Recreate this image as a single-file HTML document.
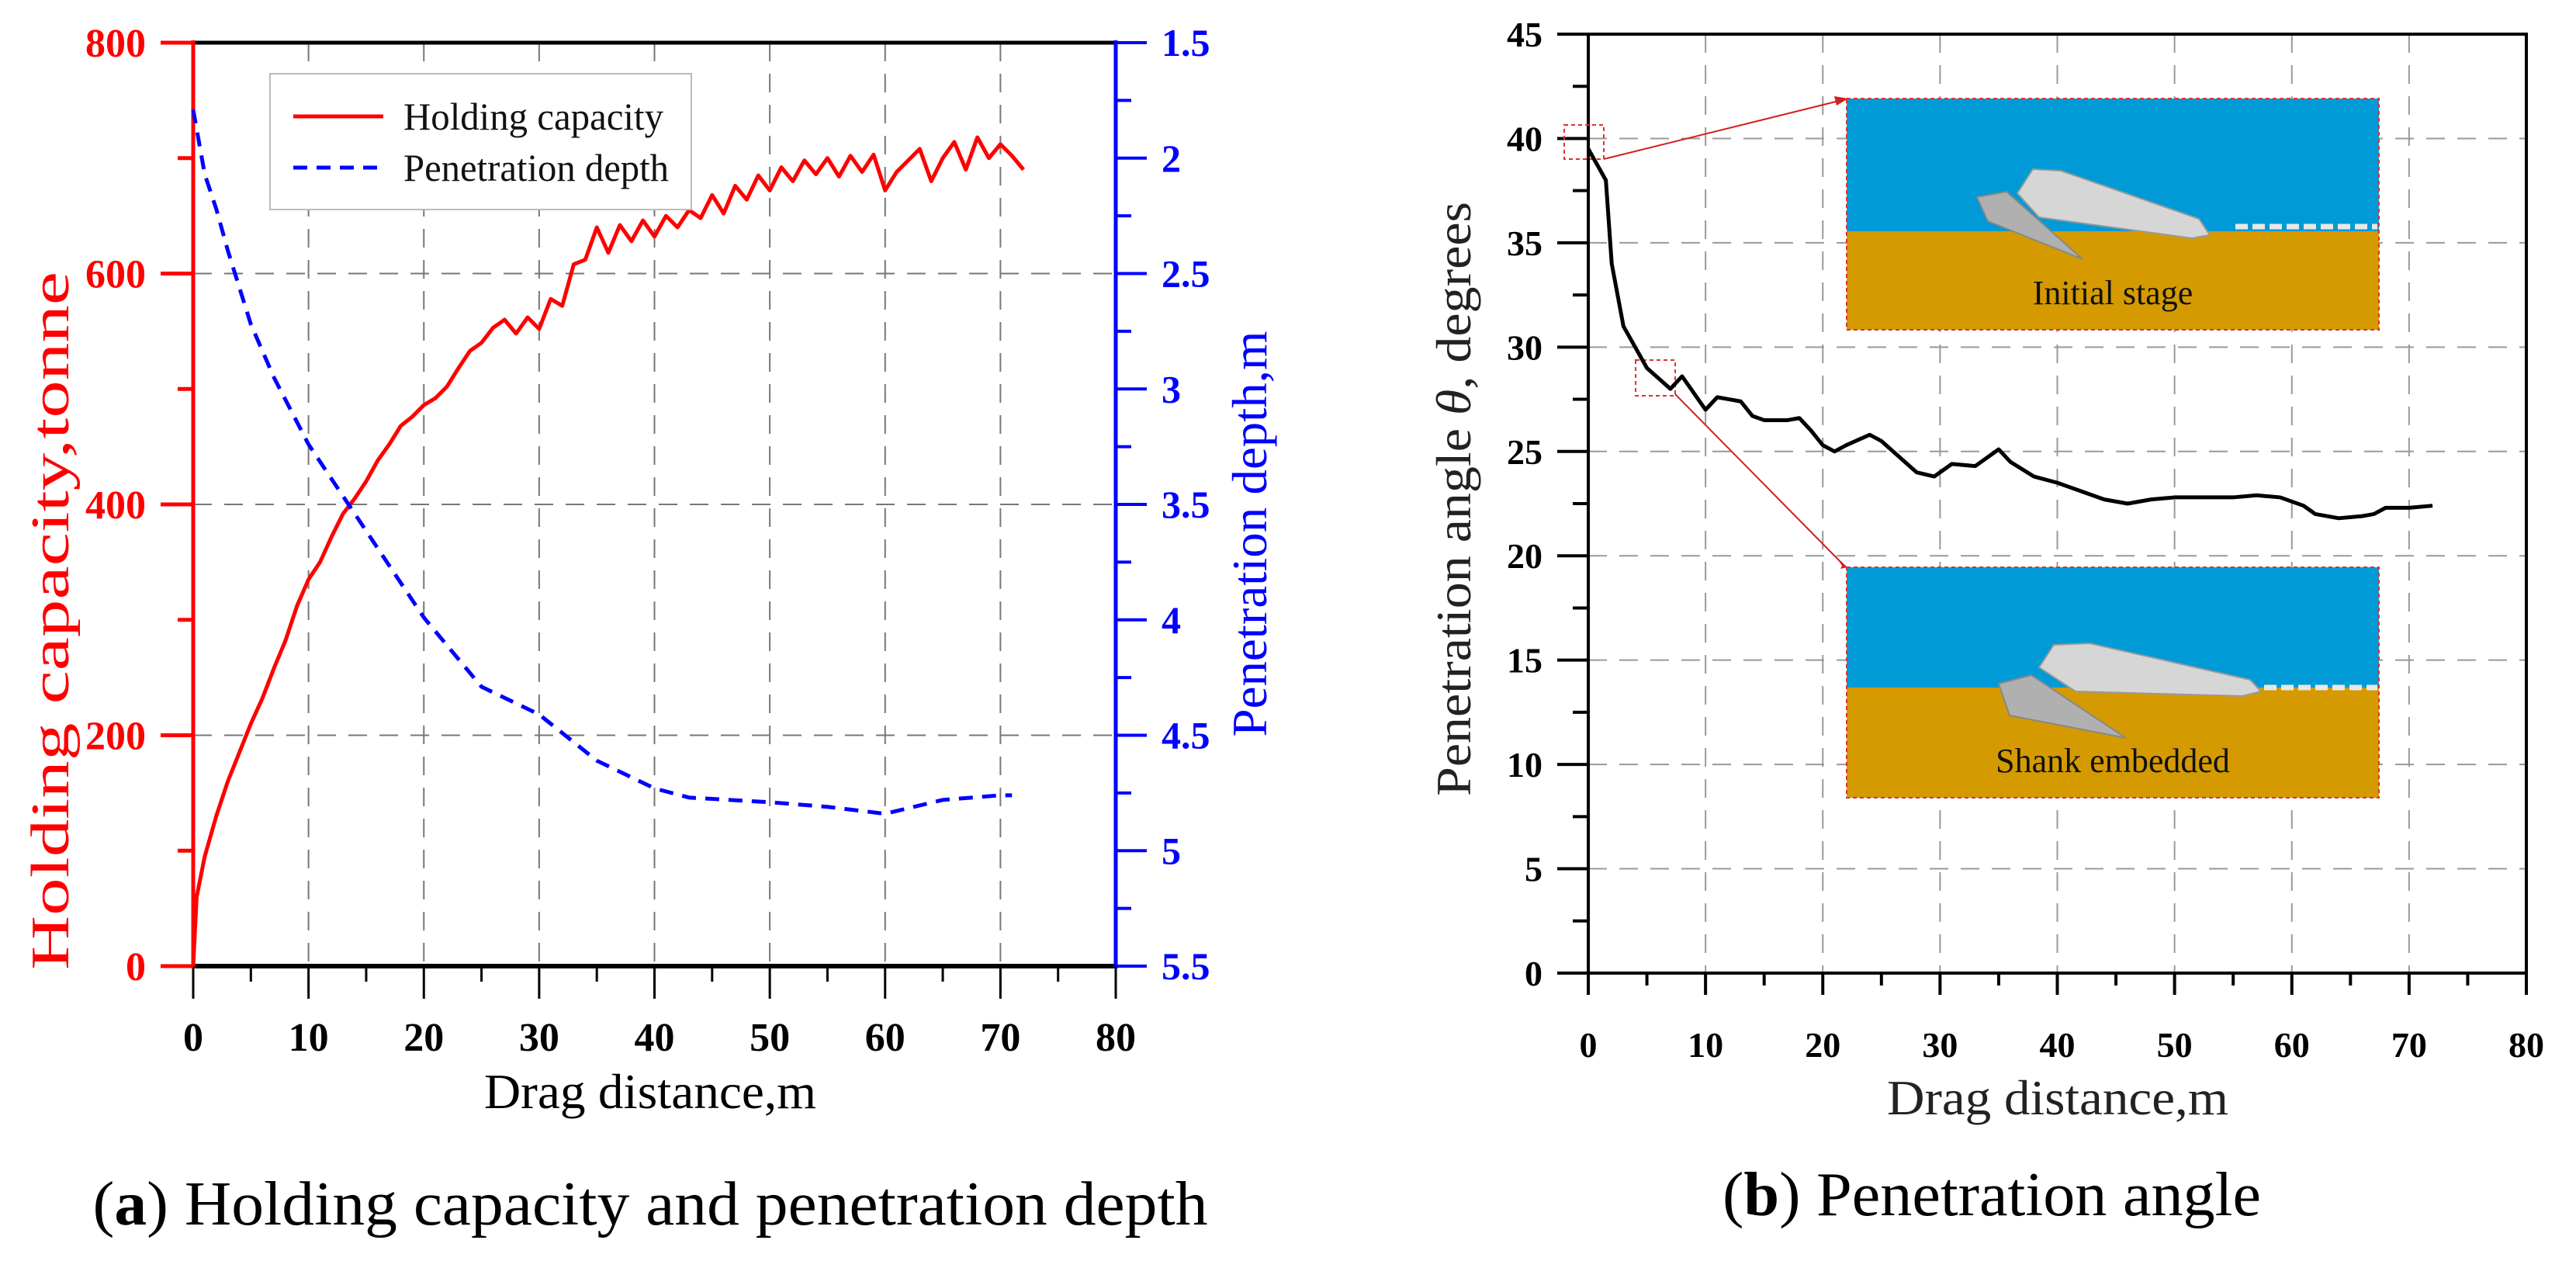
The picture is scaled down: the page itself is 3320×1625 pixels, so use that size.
<!DOCTYPE html>
<html><head><meta charset="utf-8"><style>
html,body{margin:0;padding:0;background:#fff;}
svg{display:block;font-family:"Liberation Serif",serif;}
</style></head><body>
<svg id="root" width="3320" height="1625" viewBox="0 0 3320 1625" xmlns="http://www.w3.org/2000/svg">
<g id="chartA"></g>
<g id="chartB"></g>
</svg>
<script>
// ---- Chart A data ----
const capX = [0,0.3,1,2,3,4,5,6,7,8,9,10,11,12,13,14,15,16,17,18,19,20,21,22,23,24,25,26,27,28,29,30,31,32,33,34,35,36,37,38,39,40,41,42,43,44,45,46,47,48,49,50,51,52,53,54,55,56,57,58,59,60,61,62,63,64,65,66,67,68,69,70,71,72];
const capY = [0,60,95,130,160,185,210,232,258,282,312,335,350,372,392,405,420,438,452,468,476,486,492,502,518,533,540,553,560,548,562,552,578,572,608,612,640,618,642,628,646,632,650,640,655,648,668,652,676,664,685,672,692,680,698,686,700,684,702,688,703,672,688,698,708,680,700,714,690,718,700,712,702,690];
const depX = [0,1,2,3,5,7,10,14,20,25,30,35,40,43,50,55,60,65,70,71];
const depY = [1.79,2.07,2.22,2.4,2.72,2.95,3.24,3.54,3.99,4.29,4.41,4.61,4.73,4.77,4.79,4.81,4.84,4.78,4.76,4.76];
const xTicksA = [0,10,20,30,40,50,60,70,80];
const capTicks = [0,200,400,600,800];
const depTicks = ["1.5","2","2.5","3","3.5","4","4.5","5","5.5"];
// ---- Chart B data ----
const angX = [0,0.5,1,1.5,2,3,4,5,6,7,8,9,10,11,12,13,14,15,17,18,19,20,21,22,24,25,27,28,29.5,31,33,35,36,38,40,42,44,46,48,50,52,55,57,59,61,62,64,66,67,68,70,72];
const angY = [39.5,39,38.5,38,34,31,30,29,28.5,28,28.6,27.8,27,27.6,27.5,27.4,26.7,26.5,26.5,26.6,26,25.3,25,25.3,25.8,25.5,24.5,24,23.8,24.4,24.3,25.1,24.5,23.8,23.5,23.1,22.7,22.5,22.7,22.8,22.8,22.8,22.9,22.8,22.4,22,21.8,21.9,22,22.3,22.3,22.4];
const xTicksB = [0,10,20,30,40,50,60,70,80];
const angTicks = [0,5,10,15,20,25,30,35,40,45];

const NS="http://www.w3.org/2000/svg";
function mk(parent,tag,attrs,text){const e=document.createElementNS(NS,tag);for(const k in attrs)e.setAttribute(k,attrs[k]);if(text!==undefined)e.textContent=text;parent.appendChild(e);return e;}

// ===== Chart A =====
(function(){
const g=document.getElementById('chartA');
const X0=249,X1=1438,Y0=1245,Y1=55;
const sx=v=>X0+(v/80)*(X1-X0);
const sy=v=>Y0-(v/800)*(Y0-Y1);
const sd=v=>Y1+((v-1.5)/4)*(Y0-Y1);
xTicksA.forEach(t=>{if(t>0&&t<80){const l=mk(g,'line',{x1:sx(t),y1:Y1,x2:sx(t),y2:Y0,stroke:'#777','stroke-width':2,'stroke-dasharray':'24,16'});

}});
capTicks.forEach(t=>{if(t>0&&t<800){const l=mk(g,'line',{x1:X0,y1:sy(t),x2:X1,y2:sy(t),stroke:'#777','stroke-width':2,'stroke-dasharray':'24,16'});

}});
mk(g,'line',{x1:X0,y1:Y1,x2:X1,y2:Y1,stroke:'#000','stroke-width':5});
const xa=mk(g,'line',{x1:X0,y1:Y0,x2:X1,y2:Y0,stroke:'#000','stroke-width':6});


const la=mk(g,'line',{x1:X0,y1:Y1-3,x2:X0,y2:Y0+3,stroke:'#f00','stroke-width':5});


const ra=mk(g,'line',{x1:X1,y1:Y1-3,x2:X1,y2:Y0+3,stroke:'#00f','stroke-width':5});


for(let t=0;t<=80;t+=5){mk(g,'line',{x1:sx(t),y1:Y0,x2:sx(t),y2:Y0+(t%10===0?42:20),stroke:'#000','stroke-width':3});}
xTicksA.forEach(t=>{const e=mk(g,'text',{x:sx(t),y:1354,'text-anchor':'middle','font-size':52,'font-weight':'bold',fill:'#000'},String(t));

});
for(let t=0;t<=800;t+=100){mk(g,'line',{x1:X0,y1:sy(t),x2:X0-(t%200===0?42:20),y2:sy(t),stroke:'#f00','stroke-width':5});}
capTicks.forEach(t=>{const e=mk(g,'text',{x:188,y:sy(t)+18,'text-anchor':'end','font-size':52,'font-weight':'bold',fill:'#f00'},String(t));

});
for(let i=0;i<=8;i++){const v=1.5+i*0.5;mk(g,'line',{x1:X1,y1:sd(v),x2:X1+40,y2:sd(v),stroke:'#00f','stroke-width':4});
if(i<8)mk(g,'line',{x1:X1,y1:sd(v+0.25),x2:X1+20,y2:sd(v+0.25),stroke:'#00f','stroke-width':4});}
depTicks.forEach(t=>{const e=mk(g,'text',{x:1497,y:sd(parseFloat(t))+17,'text-anchor':'start','font-size':50,'font-weight':'bold',fill:'#00f'},t);

});
const cp=mk(g,'polyline',{points:capX.map((x,i)=>sx(x)+','+sy(capY[i])).join(' '),fill:'none',stroke:'#f00','stroke-width':5,'stroke-linejoin':'round'});


const dp=mk(g,'polyline',{points:depX.map((x,i)=>sx(x)+','+sd(depY[i])).join(' '),fill:'none',stroke:'#00f','stroke-width':5,'stroke-dasharray':'18,12'});


const lg=mk(g,'g',{});


mk(lg,'rect',{x:348,y:95,width:543,height:175,fill:'#fff',stroke:'#bbb','stroke-width':2});
mk(lg,'line',{x1:378,y1:150,x2:494,y2:150,stroke:'#f00','stroke-width':5});
mk(lg,'text',{x:520,y:167,'font-size':50,fill:'#111',textLength:335,lengthAdjust:'spacingAndGlyphs'},'Holding capacity');
mk(lg,'line',{x1:378,y1:216,x2:494,y2:216,stroke:'#00f','stroke-width':5,'stroke-dasharray':'18,12'});
mk(lg,'text',{x:520,y:233,'font-size':50,fill:'#111',textLength:342,lengthAdjust:'spacingAndGlyphs'},'Penetration depth');
const xt=mk(g,'text',{x:838,y:1428,'text-anchor':'middle','font-size':64,fill:'#000',textLength:428,lengthAdjust:'spacingAndGlyphs'},'Drag distance,m');


const yt=mk(g,'text',{x:0,y:0,transform:'translate(88,800) rotate(-90)','text-anchor':'middle','font-size':70,fill:'#f00',textLength:900,lengthAdjust:'spacingAndGlyphs'},'Holding capacity,tonne');


const rt=mk(g,'text',{x:0,y:0,transform:'translate(1632,688) rotate(-90)','text-anchor':'middle','font-size':64,fill:'#00f',textLength:523,lengthAdjust:'spacingAndGlyphs'},'Penetration depth,m');


const cap=mk(g,'text',{x:838,y:1578,'text-anchor':'middle','font-size':80,fill:'#000',textLength:1437,lengthAdjust:'spacingAndGlyphs'},'');


mk(cap,'tspan',{},'(');mk(cap,'tspan',{'font-weight':'bold'},'a');mk(cap,'tspan',{},') Holding capacity and penetration depth');
})();

// ===== Chart B =====
(function(){
const g=document.getElementById('chartB');
const X0=2047,X1=3256,Y0=1254,Y1=44;
const sx=v=>X0+(v/80)*(X1-X0);
const sy=v=>Y0-(v/45)*(Y0-Y1);
xTicksB.forEach(t=>{if(t>0&&t<80){const l=mk(g,'line',{x1:sx(t),y1:Y1,x2:sx(t),y2:Y0,stroke:'#999','stroke-width':2,'stroke-dasharray':'24,16'});

}});
angTicks.forEach(t=>{if(t>0&&t<45){const l=mk(g,'line',{x1:X0,y1:sy(t),x2:X1,y2:sy(t),stroke:'#999','stroke-width':2,'stroke-dasharray':'24,16'});

}});
const fr=mk(g,'rect',{x:X0,y:Y1,width:X1-X0,height:Y0-Y1,fill:'none',stroke:'#000','stroke-width':4});


for(let t=0;t<=80;t+=5){mk(g,'line',{x1:sx(t),y1:Y0,x2:sx(t),y2:Y0+(t%10===0?28:16),stroke:'#000','stroke-width':4});}
xTicksB.forEach(t=>{const e=mk(g,'text',{x:sx(t),y:1362,'text-anchor':'middle','font-size':46,'font-weight':'bold',fill:'#000'},String(t));

});
for(let t=0;t<=45;t+=2.5){mk(g,'line',{x1:X0,y1:sy(t),x2:X0-(t%5===0?40:20),y2:sy(t),stroke:'#000','stroke-width':4});}
angTicks.forEach(t=>{const e=mk(g,'text',{x:1988,y:sy(t)+16,'text-anchor':'end','font-size':46,'font-weight':'bold',fill:'#000'},String(t));

});
function inset(name,y0,y1,yw,fluke,shank,chain,label){
 const ig=mk(g,'g',{});
 
 
 mk(ig,'rect',{x:2380,y:y0,width:686,height:yw-y0,fill:'#009bd6'});
 mk(ig,'rect',{x:2380,y:yw,width:686,height:y1-yw,fill:'#d49a00'});
 mk(ig,'rect',{x:2380,y:y0,width:686,height:y1-y0,fill:'none',stroke:'#e03030','stroke-width':2,'stroke-dasharray':'5,4'});
 mk(ig,'polygon',{points:shank,fill:'#d6d6d6',stroke:'#999','stroke-width':2});
 mk(ig,'polygon',{points:fluke,fill:'#b0b0b0',stroke:'#888','stroke-width':2});
 mk(ig,'line',{x1:chain[0],y1:chain[2],x2:chain[1],y2:chain[2],stroke:'#e8e8e8','stroke-width':7,'stroke-dasharray':'16,6'});
 mk(ig,'text',{x:2723,y:y1-33,'text-anchor':'middle','font-size':44,fill:'#111'},label);
}
inset('inset-initial-stage',127,425,298,'2548,254 2586,247 2684,334 2562,285','2600,249 2620,218 2656,220 2834,282 2848,303 2825,307 2628,280',[2881,3064,292],'Initial stage');
inset('inset-shank-embedded',731,1028,886,'2576,881 2618,870 2740,951 2590,922','2628,860 2647,831 2693,829 2900,876 2914,891 2890,897 2675,891',[2918,3064,886],'Shank embedded');
mk(g,'rect',{x:2016,y:161,width:51,height:44,fill:'none',stroke:'#e03030','stroke-width':2,'stroke-dasharray':'5,4'});
mk(g,'rect',{x:2108,y:464,width:51,height:46,fill:'none',stroke:'#e03030','stroke-width':2,'stroke-dasharray':'5,4'});
mk(g,'line',{x1:2067,y1:205,x2:2374,y2:129,stroke:'#d02020','stroke-width':2});
mk(g,'polygon',{points:'2382,127 2364,124 2367,136',fill:'#d02020'});
mk(g,'line',{x1:2159,y1:508,x2:2374,y2:726,stroke:'#d02020','stroke-width':2});
mk(g,'polygon',{points:'2381,731 2366,717 2374,729 2372,733',fill:'#d02020'});
const al=mk(g,'polyline',{points:angX.map((x,i)=>sx(x)+','+sy(angY[i])).join(' '),fill:'none',stroke:'#000','stroke-width':5,'stroke-linejoin':'round'});


const xt=mk(g,'text',{x:2652,y:1436,'text-anchor':'middle','font-size':64,fill:'#222',textLength:440,lengthAdjust:'spacingAndGlyphs'},'Drag distance,m');


const yt=mk(g,'text',{x:0,y:0,transform:'translate(1895,643) rotate(-90)','text-anchor':'middle','font-size':64,fill:'#222',textLength:766,lengthAdjust:'spacingAndGlyphs'},'');


mk(yt,'tspan',{},'Penetration angle ');mk(yt,'tspan',{'font-style':'italic'},'θ');mk(yt,'tspan',{},', degrees');
const cap=mk(g,'text',{x:2567,y:1566,'text-anchor':'middle','font-size':80,fill:'#000',textLength:694,lengthAdjust:'spacingAndGlyphs'},'');


mk(cap,'tspan',{},'(');mk(cap,'tspan',{'font-weight':'bold'},'b');mk(cap,'tspan',{},') Penetration angle');
})();
</script>
</body></html>
